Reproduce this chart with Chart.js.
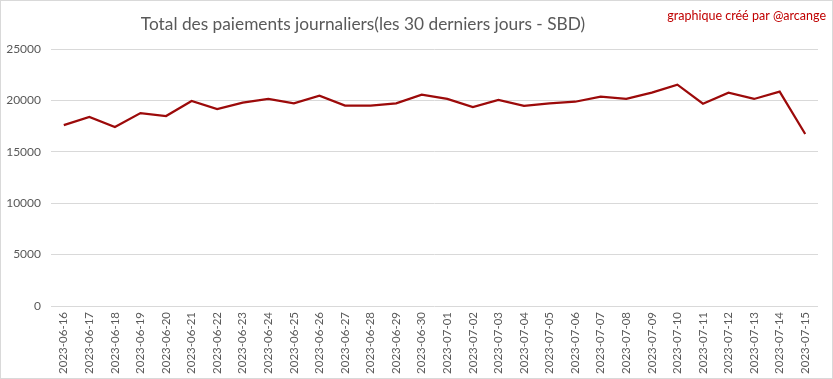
<!DOCTYPE html>
<html><head><meta charset="utf-8">
<script src="https://cdn.jsdelivr.net/npm/chart.js@4"></script>
<style>html,body{margin:0;padding:0;background:#fff}#wrap{width:833px;height:379px;position:relative}</style>
</head><body><div id="wrap"><canvas id="c" width="833" height="379"></canvas></div>
<script>
const categories = ["2023-06-16","2023-06-17","2023-06-18","2023-06-19","2023-06-20","2023-06-21","2023-06-22","2023-06-23","2023-06-24","2023-06-25","2023-06-26","2023-06-27","2023-06-28","2023-06-29","2023-06-30","2023-07-01","2023-07-02","2023-07-03","2023-07-04","2023-07-05","2023-07-06","2023-07-07","2023-07-08","2023-07-09","2023-07-10","2023-07-11","2023-07-12","2023-07-13","2023-07-14","2023-07-15"];
const payments = [17600,18390,17410,18770,18480,19940,19160,19780,20150,19720,20460,19490,19490,19720,20560,20140,19360,20040,19460,19720,19870,20360,20140,20750,21530,19680,20750,20140,20850,16730];
const yTicks = [0,5000,10000,15000,20000,25000];
const titleText = "Total des paiements journaliers(les 30 derniers jours - SBD)";
const creditText = "graphique créé par @arcange";

const deco = {
  id:'deco',
  afterDraw(chart){
    const ctx = chart.ctx;
    ctx.save();
    ctx.strokeStyle = '#d9d9d9'; ctx.lineWidth = 1;
    ctx.strokeRect(0.5,0.5,832,378);
    ctx.fillStyle = '#595959';
    ctx.font = '17.3px Lato, "Liberation Sans", sans-serif';
    ctx.textAlign = 'center'; ctx.textBaseline = 'middle';
    ctx.fillText(titleText, 363, 24);
    ctx.fillStyle = '#C00000';
    ctx.font = '12.5px Lato, "Liberation Sans", sans-serif';
    ctx.textAlign = 'right';
    ctx.fillText(creditText, 826, 16);
    ctx.restore();
  }
};

new Chart(document.getElementById('c'), {
  type:'line',
  data:{labels:categories, datasets:[{data:payments, borderColor:'#9C0A0A', borderWidth:2.25, pointRadius:0, tension:0, fill:false}]},
  options:{
    responsive:false, animation:false, devicePixelRatio:1,
    layout:{padding:{left:0,right:15,top:49,bottom:0}},
    plugins:{legend:{display:false}, tooltip:{enabled:false}},
    scales:{
      x:{
        offset:true,
        grid:{display:false, drawTicks:false},
        border:{display:false},
        ticks:{color:'#595959', font:{family:'Lato, "Liberation Sans", sans-serif', size:11.5}, minRotation:90, maxRotation:90, autoSkip:false, padding:6},
        afterFit(s){ s.height = 73; }
      },
      y:{
        min:0, max:25000,
        afterBuildTicks(s){ s.ticks = yTicks.map(v=>({value:v})); },
        grid:{color:'#d9d9d9', lineWidth:1, drawTicks:false},
        border:{display:false},
        ticks:{color:'#595959', font:{family:'Lato, "Liberation Sans", sans-serif', size:12}, padding:10, callback:(v)=>String(v)},
        afterFit(s){ s.width = 51; }
      }
    }
  },
  plugins:[deco]
});
</script></body></html>
